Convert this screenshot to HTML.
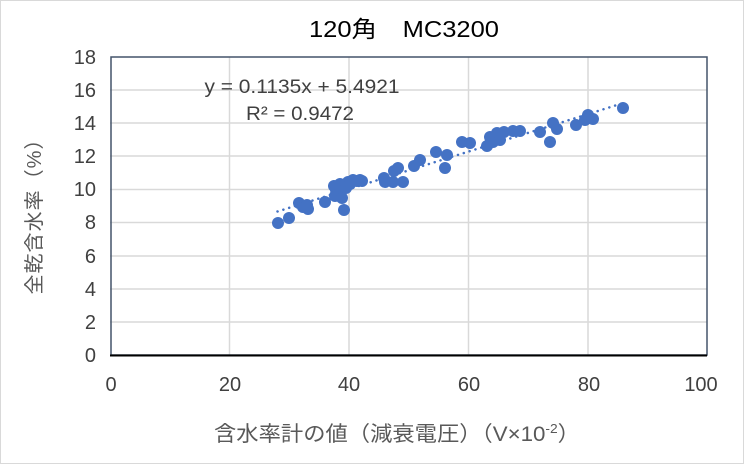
<!DOCTYPE html>
<html><head><meta charset="utf-8"><style>
html,body{margin:0;padding:0;background:#fff}
svg{display:block}
text{font-family:"Liberation Sans","Noto Sans CJK JP",sans-serif}
</style></head><body>
<svg width="744" height="464" viewBox="0 0 744 464">
<rect x="0.5" y="0.5" width="743" height="463" fill="#fff" stroke="#d9d9d9"/>
<text x="404" y="37" font-size="23" text-anchor="middle" fill="#000" textLength="190" lengthAdjust="spacingAndGlyphs">120角　MC3200</text>
<g stroke="#d9d9d9" stroke-width="1.5">
<line x1="110" y1="90" x2="707" y2="90"/><line x1="110" y1="123" x2="707" y2="123"/>
<line x1="110" y1="156" x2="707" y2="156"/><line x1="110" y1="189.5" x2="707" y2="189.5"/>
<line x1="110" y1="222.5" x2="707" y2="222.5"/><line x1="110" y1="256" x2="707" y2="256"/>
<line x1="110" y1="289" x2="707" y2="289"/><line x1="110" y1="322" x2="707" y2="322"/>
<line x1="229.5" y1="57" x2="229.5" y2="355"/><line x1="349" y1="57" x2="349" y2="355"/>
<line x1="468.5" y1="57" x2="468.5" y2="355"/><line x1="588" y1="57" x2="588" y2="355"/>
</g>
<rect x="111" y="57" width="596" height="298" fill="none" stroke="#44546a" stroke-width="1.5"/>
<line x1="110" y1="355.5" x2="707" y2="355.5" stroke="#000" stroke-width="2"/>
<g font-size="20" fill="#404040" text-anchor="end">
<text x="96" y="64">18</text><text x="96" y="97">16</text><text x="96" y="130">14</text>
<text x="96" y="163">12</text><text x="96" y="196">10</text><text x="96" y="229">8</text>
<text x="96" y="263">6</text><text x="96" y="296">4</text><text x="96" y="329">2</text>
<text x="96" y="362">0</text>
</g>
<g font-size="20" fill="#404040" text-anchor="middle">
<text x="111" y="391">0</text><text x="230" y="391">20</text><text x="349" y="391">40</text>
<text x="469" y="391">60</text><text x="589" y="391">80</text><text x="701" y="391">100</text>
</g>
<text x="397" y="441" font-size="21" fill="#595959" text-anchor="middle" textLength="366" lengthAdjust="spacingAndGlyphs">含水率計の値（減衰電圧）（V×10<tspan font-size="13" dy="-8">-2</tspan><tspan dy="8">）</tspan></text>
<text transform="translate(41,212) rotate(-90)" font-size="20" fill="#595959" text-anchor="middle" textLength="165" lengthAdjust="spacing">全乾含水率（%）</text>
<g fill="#4472c4">
<circle cx="278" cy="223" r="6"/><circle cx="289" cy="218" r="6"/><circle cx="299" cy="203" r="6"/>
<circle cx="303" cy="207" r="6"/><circle cx="308" cy="209" r="6"/><circle cx="307" cy="205" r="6"/>
<circle cx="325" cy="202" r="6"/><circle cx="334" cy="186" r="6"/><circle cx="335" cy="196" r="6"/>
<circle cx="336" cy="190" r="6"/><circle cx="338" cy="194" r="6"/><circle cx="340" cy="184" r="6"/>
<circle cx="342" cy="198" r="6"/><circle cx="344" cy="210" r="6"/><circle cx="346" cy="188" r="6"/>
<circle cx="348" cy="182" r="6"/><circle cx="350" cy="184" r="6"/><circle cx="353" cy="180" r="6"/>
<circle cx="357" cy="181" r="6"/><circle cx="360" cy="180" r="6"/><circle cx="362" cy="181" r="6"/>
<circle cx="384" cy="178" r="6"/><circle cx="385" cy="182" r="6"/><circle cx="393" cy="182" r="6"/>
<circle cx="394" cy="171" r="6"/><circle cx="398" cy="168" r="6"/><circle cx="403" cy="182" r="6"/>
<circle cx="414" cy="166" r="6"/><circle cx="420" cy="160" r="6"/><circle cx="436" cy="152" r="6"/>
<circle cx="447" cy="155" r="6"/><circle cx="445" cy="168" r="6"/><circle cx="462" cy="142" r="6"/>
<circle cx="470" cy="143" r="6"/><circle cx="487" cy="146" r="6"/><circle cx="490" cy="137" r="6"/>
<circle cx="493" cy="142" r="6"/><circle cx="497" cy="133" r="6"/><circle cx="500" cy="140" r="6"/>
<circle cx="504" cy="132" r="6"/><circle cx="513" cy="131" r="6"/><circle cx="520" cy="131" r="6"/>
<circle cx="540" cy="132" r="6"/><circle cx="550" cy="142" r="6"/><circle cx="553" cy="123" r="6"/>
<circle cx="557" cy="129" r="6"/><circle cx="576" cy="125" r="6"/><circle cx="585" cy="120" r="6"/>
<circle cx="588" cy="115" r="6"/><circle cx="590" cy="118" r="6"/><circle cx="593" cy="119" r="6"/>
<circle cx="623" cy="108" r="6"/>
</g>
<line x1="277.5" y1="211.5" x2="625" y2="102.5" stroke="#4472c4" stroke-width="2.5" stroke-dasharray="0.1 6" stroke-linecap="round"/>
<text x="302" y="93" font-size="19" fill="#404040" text-anchor="middle" textLength="195" lengthAdjust="spacingAndGlyphs">y = 0.1135x + 5.4921</text>
<text x="300" y="120" font-size="19" fill="#404040" text-anchor="middle" textLength="108" lengthAdjust="spacingAndGlyphs">R² = 0.9472</text>
</svg>
</body></html>
